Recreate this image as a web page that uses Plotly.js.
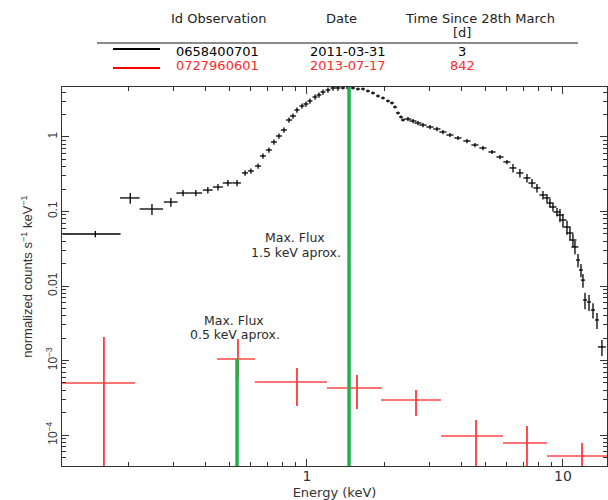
<!DOCTYPE html>
<html>
<head>
<meta charset="utf-8">
<script src="https://cdn.plot.ly/plotly-3.0.1.min.js"></script>
<style>
  html, body { margin: 0; padding: 0; background: #ffffff; }
  #chart { width: 608px; height: 500px; }
</style>
</head>
<body>
<div id="chart"></div>
<script>
// ---- Observation table (header / legend) ----
const obsIds = ['0658400701', '0727960601'];
const obsDates = ['2011-03-31', '2013-07-17'];
const obsDays = ['3', '842'];
const obsColors = ['#000000', '#ff2a2a'];

// ---- Black spectrum: 0658400701 (energy keV, normalized counts s^-1 keV^-1) ----
const blackE = [0.149,0.204,0.248,0.294,0.328,0.368,0.410,0.449,0.491,0.533,
  0.573,0.604,0.644,0.673,0.710,0.743,0.777,0.813,0.851,0.882,
  0.914,0.956,0.991,1.027,1.075,1.114,1.155,1.208,1.264,1.321,
  1.382,1.446,1.513,1.582,1.655,1.730,1.811,1.893,1.981,2.072,
  2.148,2.207,2.267,2.329,2.371,2.480,2.595,2.714,2.839,3.023,
  3.219,3.398,3.620,3.889,4.217,4.532,4.870,5.281,5.675,6.04,
  6.38,6.79,7.235,7.568,7.915,8.354,8.66,8.896,9.14,9.475,
  9.734,10.0,10.37,10.65,10.94,11.14,11.45,11.76,11.97,12.19,
  12.64,13.1,13.58,14.2];
const blackFlux = [0.0499,0.152,0.108,0.134,0.177,0.177,0.194,0.213,0.2415,0.2415,
  0.329,0.350,0.408,0.556,0.669,0.857,1.031,1.241,1.69,1.913,
  2.304,2.607,2.773,3.042,3.443,3.663,4.018,4.275,4.548,4.55,
  4.55,4.55,4.55,4.41,4.41,4.144,3.896,3.55,3.338,3.042,
  2.86,2.527,2.099,1.855,1.691,1.744,1.640,1.541,1.449,1.362,
  1.28,1.167,1.064,0.970,0.884,0.781,0.712,0.629,0.539,0.462,
  0.384,0.329,0.282,0.241,0.207,0.1665,0.152,0.130,0.115,0.0985,
  0.0897,0.0769,0.0619,0.0514,0.0414,0.0334,0.0223,0.0164,0.0120,0.00649,
  0.0061,0.00476,0.0035,0.00152];
const blackEErr = [0.038,0.018,0.026,0.018,0.019,0.021,0.018,0.020,0.022,0.019,
  0.0155,0.0163,0.0174,0.0182,0.0192,0.020,0.021,0.022,0.023,0.024,
  0.021,0.022,0.022,0.023,0.024,0.025,0.026,0.027,0.029,0.030,
  0.025,0.026,0.027,0.028,0.030,0.031,0.033,0.034,0.036,0.037,
  0.039,0.040,0.041,0.042,0.043,0.079,0.083,0.087,0.091,0.097,
  0.103,0.109,0.116,0.124,0.135,0.145,0.156,0.169,0.182,0.193,
  0.204,0.217,0.232,0.242,0.253,0.267,0.277,0.285,0.292,0.303,
  0.311,0.32,0.332,0.341,0.35,0.356,0.21,0.21,0.22,0.22,
  0.23,0.24,0.24,0.51];
const blackFluxErr = [0.0048,0.025,0.018,0.018,0.017,0.017,0.019,0.021,0.023,0.023,
  0.026,0.028,0.033,0.044,0.054,0.069,0.082,0.099,0.135,0.153,
  0.184,0.209,0.222,0.243,0.275,0.293,0.321,0.342,0.364,0.364,
  0.21,0.21,0.21,0.21,0.21,0.195,0.183,0.167,0.157,0.143,
  0.134,0.119,0.099,0.087,0.079,0.112,0.105,0.099,0.093,0.087,
  0.082,0.075,0.068,0.062,0.057,0.05,0.046,0.040,0.035,0.03,
  0.051,0.043,0.037,0.032,0.027,0.022,0.020,0.017,0.015,0.013,
  0.018,0.016,0.013,0.0105,0.0084,0.0068,0.0045,0.0033,0.0025,0.0016,
  0.0015,0.0011,0.00085,0.00037];

// ---- Red spectrum: 0727960601 ----
const redE = [0.161, 0.5375, 0.914, 1.568, 2.666, 4.573, 7.235, 11.87];
const redFlux = [4.99e-4, 1.047e-3, 5.14e-4, 4.27e-4, 2.95e-4, 9.7e-5, 7.82e-5, 5.23e-5];
const redEMinus = [0.0506, 0.0925, 0.288, 0.371, 0.721, 1.236, 1.405, 3.21];
const redEPlus = [0.052, 0.0885, 0.283, 0.395, 0.671, 1.257, 1.425, 4.13];
const redFluxPlus = [1.571e-3, 8.98e-4, 2.8e-4, 2.11e-4, 1.07e-4, 6.2e-5, 5.38e-5, 2.59e-5];
const redFluxMinus = [4.9e-4, 4.8e-4, 2.69e-4, 2.04e-4, 1.15e-4, 9.6e-5, 7.7e-5, 5.1e-5];

// ---- Max flux markers ----
const maxFluxE = [0.533, 1.46];
const maxFluxTop = [1.05e-3, 10];
const maxFluxLabels = ['0.5 keV aprox.', '1.5 keV aprox.'];

// ---- Axis ticks ----
const xTickVals = [1, 10];
const xTickText = ['1', '10'];
const xMinorVals = [0.2,0.3,0.4,0.5,0.6,0.7,0.8,0.9,2,3,4,5,6,7,8,9];
const yTickVals = [1e-4, 1e-3, 0.01, 0.1, 1];
const yTickText = ['10<sup>\u22124</sup>', '10<sup>\u22123</sup>', '0.01', '0.1', '1'];
const yMinorVals = [5e-5,6e-5,7e-5,8e-5,9e-5,
  2e-4,3e-4,4e-4,5e-4,6e-4,7e-4,8e-4,9e-4,
  2e-3,3e-3,4e-3,5e-3,6e-3,7e-3,8e-3,9e-3,
  0.02,0.03,0.04,0.05,0.06,0.07,0.08,0.09,
  0.2,0.3,0.4,0.5,0.6,0.7,0.8,0.9,2,3,4];

const traces = [
  {
    x: blackE, y: blackFlux, type: 'scatter', mode: 'markers',
    marker: {size: 1, color: '#000', opacity: 0},
    error_x: {type: 'data', symmetric: true, array: blackEErr, color: '#000', thickness: 1.3, width: 0},
    error_y: {type: 'data', symmetric: true, array: blackFluxErr, color: '#000', thickness: 1.3, width: 0},
    showlegend: false, hoverinfo: 'skip'
  },
  {
    x: redE, y: redFlux, type: 'scatter', mode: 'markers',
    marker: {size: 1, color: '#ff0000', opacity: 0},
    error_x: {type: 'data', symmetric: false, array: redEPlus, arrayminus: redEMinus, color: '#ff4646', thickness: 1.6, width: 0},
    error_y: {type: 'data', symmetric: false, array: redFluxPlus, arrayminus: redFluxMinus, color: '#ff0000', thickness: 1.4, width: 0},
    showlegend: false, hoverinfo: 'skip'
  }
];
maxFluxE.forEach(function (e, i) {
  traces.push({
    x: [e, e], y: [1e-6, maxFluxTop[i]], type: 'scatter', mode: 'lines',
    line: {color: '#22b14c', width: 3.5}, showlegend: false, hoverinfo: 'skip'
  });
});

// paper-coordinate helpers (plot area: x 62..607, y 87..466 px)
function px(v) { return (v - 62) / 545; }
function py(v) { return (466 - v) / 379; }

const tblFamily = 'DejaVu Sans, Liberation Sans, sans-serif';
const hdrFont = {family: tblFamily, size: 13, color: '#222'};
const annotations = [
  {text: 'Id Observation', x: px(218), y: py(18)},
  {text: 'Date', x: px(341), y: py(18)},
  {text: 'Time Since 28th March', x: px(480), y: py(18)},
  {text: '[d]', x: px(462), y: py(33)}
].map(function (a) {
  return Object.assign({xref: 'paper', yref: 'paper', showarrow: false, xanchor: 'center', yanchor: 'middle', font: hdrFont}, a);
});
const rowY = [51, 65];
obsIds.forEach(function (id, i) {
  const f = {family: tblFamily, size: 13, color: obsColors[i]};
  [[id, 217], [obsDates[i], 348], [obsDays[i], 462]].forEach(function (c) {
    annotations.push({text: c[0], x: px(c[1]), y: py(rowY[i]), xref: 'paper', yref: 'paper',
      showarrow: false, xanchor: 'center', yanchor: 'middle', font: f});
  });
});
const noteFont = {family: tblFamily, size: 12.5, color: '#2b2b2b'};
const notePos = [[234, 320, 334], [295, 237, 252]];
maxFluxLabels.forEach(function (lab, i) {
  annotations.push({text: 'Max. Flux', x: px(notePos[i][0]), y: py(notePos[i][1]), xref: 'paper', yref: 'paper',
    showarrow: false, xanchor: 'center', yanchor: 'middle', font: noteFont});
  annotations.push({text: lab, x: px(notePos[i][0] + 1), y: py(notePos[i][2]), xref: 'paper', yref: 'paper',
    showarrow: false, xanchor: 'center', yanchor: 'middle', font: noteFont});
});

const shapes = [
  {type: 'line', xref: 'paper', yref: 'paper', x0: px(97), x1: px(578), y0: py(43), y1: py(43),
   line: {color: '#8a8a8a', width: 2}},
  {type: 'line', xref: 'paper', yref: 'paper', x0: px(113), x1: px(160), y0: py(49), y1: py(49),
   line: {color: obsColors[0], width: 2}},
  {type: 'line', xref: 'paper', yref: 'paper', x0: px(113), x1: px(160), y0: py(68), y1: py(68),
   line: {color: '#ff0000', width: 2}}
];

const axisCommon = {
  type: 'log', showgrid: false, zeroline: false, showline: true, linecolor: '#333', linewidth: 1,
  mirror: 'allticks', ticks: 'inside', ticklen: 7, tickwidth: 1, tickcolor: '#333',
  tickmode: 'array'
};

const layout = {
  width: 608, height: 500,
  margin: {l: 62, r: 1, t: 87, b: 34, pad: 0},
  paper_bgcolor: '#ffffff', plot_bgcolor: '#ffffff',
  showlegend: false,
  xaxis: Object.assign({}, axisCommon, {
    range: [-0.957, 1.172],
    tickvals: xTickVals, ticktext: xTickText,
    tickfont: {family: 'DejaVu Sans', size: 14, color: '#333'},
    ticklabelposition: 'outside',
    ticklabelstandoff: -3,
    minor: {tickmode: 'array', tickvals: xMinorVals, ticks: 'inside', ticklen: 4, tickcolor: '#333', showgrid: false},
    title: {text: 'Energy (keV)', font: {family: 'DejaVu Sans', size: 13, color: '#333'}, standoff: 6}
  }),
  yaxis: Object.assign({}, axisCommon, {
    range: [-4.416, 0.671],
    tickvals: yTickVals, ticktext: yTickText, tickangle: -90,
    tickfont: {family: 'Liberation Sans, Arial, sans-serif', size: 12, color: '#333'},
    ticklabelposition: 'outside',
    ticklabelstandoff: -1,
    minor: {tickmode: 'array', tickvals: yMinorVals, ticks: 'inside', ticklen: 4, tickcolor: '#333', showgrid: false},
    title: {text: 'normalized counts s<sup>\u22121</sup> keV<sup>\u22121</sup>', font: {family: 'Liberation Sans, Arial, sans-serif', size: 13, color: '#333'}, standoff: 8}
  }),
  annotations: annotations,
  shapes: shapes
};

Plotly.newPlot('chart', traces, layout, {staticPlot: true, displayModeBar: false});
</script>
</body>
</html>
